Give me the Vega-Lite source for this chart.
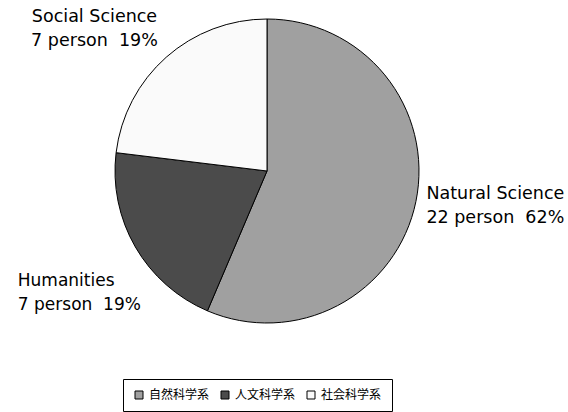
{
  "$schema": "https://vega.github.io/schema/vega-lite/v6.json",
  "width": 534,
  "height": 342,
  "autosize": {"type": "none"},
  "padding": {"left": 0, "top": 0, "right": 34, "bottom": 70},
  "background": "white",
  "config": {
    "view": {"stroke": null},
    "font": "DejaVu Sans",
    "legend": {
      "strokeColor": "black",
      "fillColor": "white",
      "padding": 10,
      "symbolType": "square",
      "symbolSize": 64,
      "symbolStrokeColor": "black",
      "symbolStrokeWidth": 1,
      "labelFont": "Noto Sans CJK JP",
      "labelFontSize": 12,
      "labelColor": "black",
      "labelOffset": 4,
      "columnPadding": 9,
      "cornerRadius": 0
    }
  },
  "data": {
    "values": [
      {"key": "N", "cat": "自然科学系", "value": 22, "ord": 1, "label": "Natural Science\n22 person\u00a0\u00a062%"},
      {"key": "H", "cat": "人文科学系", "value": 8, "ord": 2, "label": "Humanities\n7 person\u00a0\u00a019%"},
      {"key": "S", "cat": "社会科学系", "value": 9, "ord": 3, "label": "Social Science\n7 person\u00a0\u00a019%"}
    ]
  },
  "encoding": {
    "theta": {"field": "value", "type": "quantitative", "stack": true},
    "order": {"field": "ord", "type": "quantitative"}
  },
  "layer": [
    {
      "mark": {"type": "arc", "outerRadius": 152, "stroke": "black", "strokeWidth": 1},
      "encoding": {
        "color": {
          "field": "cat",
          "type": "nominal",
          "scale": {"domain": ["自然科学系", "人文科学系", "社会科学系"], "range": ["#a0a0a0", "#4b4b4b", "#fafafa"]},
          "legend": {"orient": "none", "legendX": 123, "legendY": 379, "direction": "horizontal", "title": null}
        }
      }
    },
    {
      "mark": {"type": "text", "radius": 230, "dx": 3, "dy": -23, "fontSize": 17.5, "lineHeight": 24, "lineBreak": "\n", "align": "center", "baseline": "middle", "color": "black"},
      "encoding": {
        "detail": {"field": "cat", "type": "nominal"},
        "text": {"condition": {"test": "datum.key === 'N'", "field": "label", "type": "nominal"}, "value": ""}
      }
    },
    {
      "mark": {"type": "text", "radius": 230, "dx": -50, "dy": -5, "fontSize": 17, "lineHeight": 24, "lineBreak": "\n", "align": "left", "baseline": "middle", "color": "black"},
      "encoding": {
        "detail": {"field": "cat", "type": "nominal"},
        "text": {"condition": {"test": "datum.key === 'H'", "field": "label", "type": "nominal"}, "value": ""}
      }
    },
    {
      "mark": {"type": "text", "radius": 230, "dx": -20, "dy": 18, "fontSize": 17.5, "lineHeight": 24, "lineBreak": "\n", "align": "center", "baseline": "middle", "color": "black"},
      "encoding": {
        "detail": {"field": "cat", "type": "nominal"},
        "text": {"condition": {"test": "datum.key === 'S'", "field": "label", "type": "nominal"}, "value": ""}
      }
    }
  ]
}
